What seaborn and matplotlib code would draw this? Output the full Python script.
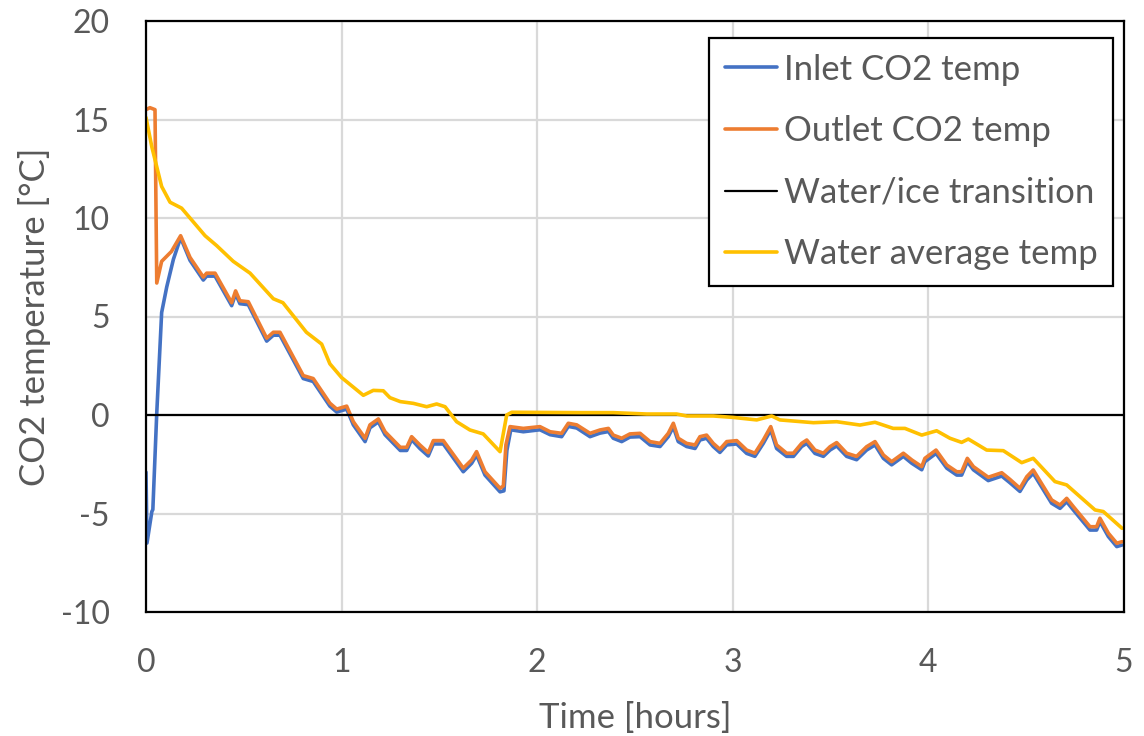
import matplotlib
matplotlib.use("Agg")
import matplotlib.pyplot as plt
import seaborn as sns
import pandas as pd

# ---------------- data ----------------
outlet_t = [0, 0.02, 0.046, 0.055, 0.08, 0.13, 0.177, 0.225, 0.293, 0.31, 0.353, 0.438, 0.458, 0.48,
            0.523, 0.617, 0.651, 0.685, 0.804, 0.855, 0.94, 0.975, 1.026, 1.06, 1.12, 1.145, 1.188,
            1.222, 1.3, 1.333, 1.358, 1.4, 1.443, 1.469, 1.52, 1.622, 1.665, 1.69, 1.733, 1.81, 1.827,
            1.84, 1.861, 1.929, 2.014, 2.066, 2.125, 2.159, 2.202, 2.27, 2.321, 2.364, 2.389, 2.432,
            2.474, 2.526, 2.577, 2.628, 2.67, 2.696, 2.721, 2.764, 2.807, 2.832, 2.866, 2.9, 2.934,
            2.969, 3.02, 3.071, 3.113, 3.156, 3.194, 3.224, 3.275, 3.31, 3.352, 3.378, 3.42, 3.463,
            3.497, 3.531, 3.582, 3.633, 3.684, 3.727, 3.77, 3.812, 3.872, 3.915, 3.966, 3.982, 4.039,
            4.094, 4.145, 4.17, 4.199, 4.23, 4.306, 4.375, 4.417, 4.468, 4.503, 4.536, 4.63, 4.673,
            4.707, 4.741, 4.826, 4.86, 4.877, 4.92, 4.963, 4.99]
outlet_v = [15.5, 15.6, 15.5, 6.7, 7.8, 8.3, 9.1, 8.0, 7.0, 7.2, 7.2, 5.7, 6.3, 5.8,
            5.75, 3.9, 4.2, 4.2, 2.0, 1.85, 0.6, 0.3, 0.45, -0.34, -1.18, -0.5, -0.2,
            -0.85, -1.64, -1.64, -1.1, -1.52, -1.91, -1.3, -1.3, -2.7, -2.28, -1.86, -2.88, -3.72, -3.6,
            -1.52, -0.59, -0.68, -0.59, -0.85, -0.93, -0.42, -0.5, -0.93, -0.76, -0.68, -1.02, -1.18,
            -0.96, -0.93, -1.35, -1.44, -0.93, -0.42, -1.18, -1.44, -1.52, -1.1, -1.02, -1.44, -1.74,
            -1.35, -1.3, -1.78, -1.94, -1.27, -0.59, -1.52, -1.94, -1.94, -1.44, -1.27, -1.78, -1.94,
            -1.61, -1.4, -1.94, -2.1, -1.61, -1.35, -2.03, -2.37, -1.94, -2.28, -2.62, -2.2, -1.78,
            -2.54, -2.88, -2.88, -2.2, -2.62, -3.16, -2.93, -3.27, -3.72, -3.13, -2.79, -4.31, -4.57,
            -4.23, -4.65, -5.67, -5.67, -5.24, -6.0, -6.51, -6.43]

inlet_t = [0, 0.005, 0.03, 0.035, 0.055, 0.08, 0.106, 0.14, 0.177, 0.225, 0.293, 0.31, 0.353, 0.438,
           0.458, 0.48, 0.523, 0.617, 0.651, 0.685, 0.804, 0.855, 0.94, 0.975, 1.026, 1.06, 1.12,
           1.145, 1.188, 1.222, 1.3, 1.333, 1.358, 1.4, 1.443, 1.469, 1.52, 1.622, 1.665, 1.69, 1.733,
           1.81, 1.83, 1.845, 1.865, 1.929, 2.014, 2.066, 2.125, 2.159, 2.202, 2.27, 2.321, 2.364,
           2.389, 2.432, 2.474, 2.526, 2.577, 2.628, 2.67, 2.696, 2.721, 2.764, 2.807, 2.832, 2.866,
           2.9, 2.934, 2.969, 3.02, 3.071, 3.113, 3.156, 3.194, 3.224, 3.275, 3.31, 3.352, 3.378,
           3.42, 3.463, 3.497, 3.531, 3.582, 3.633, 3.684, 3.727, 3.77, 3.812, 3.872, 3.915, 3.966,
           3.982, 4.039, 4.094, 4.145, 4.17, 4.199, 4.23, 4.306, 4.375, 4.417, 4.468, 4.503, 4.536,
           4.63, 4.673, 4.707, 4.741, 4.826, 4.86, 4.877, 4.92, 4.963, 4.99]
inlet_v = [-2.9, -6.5, -4.9, -4.8, 0.1, 5.2, 6.5, 7.9, 9.0, 7.85, 6.85, 7.05, 7.05, 5.55,
           6.15, 5.65, 5.6, 3.75, 4.05, 4.05, 1.85, 1.7, 0.45, 0.15, 0.3, -0.5, -1.35,
           -0.65, -0.35, -1.0, -1.8, -1.8, -1.25, -1.7, -2.08, -1.47, -1.47, -2.88, -2.45, -2.03, -3.05,
           -3.9, -3.85, -1.8, -0.75, -0.85, -0.75, -1.0, -1.1, -0.58, -0.66, -1.1, -0.92, -0.84,
           -1.18, -1.35, -1.12, -1.1, -1.52, -1.6, -1.1, -0.6, -1.35, -1.6, -1.7, -1.27, -1.18,
           -1.6, -1.9, -1.52, -1.47, -1.95, -2.1, -1.44, -0.76, -1.7, -2.1, -2.1, -1.6, -1.44,
           -1.95, -2.1, -1.78, -1.57, -2.1, -2.27, -1.78, -1.52, -2.2, -2.53, -2.1, -2.45, -2.78,
           -2.37, -1.95, -2.7, -3.05, -3.05, -2.37, -2.78, -3.33, -3.1, -3.44, -3.88, -3.3, -2.96,
           -4.48, -4.74, -4.4, -4.82, -5.84, -5.84, -5.41, -6.17, -6.68, -6.6]

water_t = [0, 0.03, 0.08, 0.123, 0.182, 0.302, 0.361, 0.446, 0.532, 0.651, 0.70, 0.82, 0.898, 0.94,
           1.0, 1.111, 1.162, 1.213, 1.247, 1.3, 1.367, 1.435, 1.486, 1.529, 1.588, 1.656, 1.724,
           1.81, 1.844, 1.87, 2.22, 2.389, 2.56, 2.713, 2.764, 2.9, 3.0, 3.122, 3.199, 3.241, 3.412,
           3.531, 3.65, 3.727, 3.82, 3.88, 3.966, 4.042, 4.11, 4.17, 4.204, 4.298, 4.383, 4.477,
           4.536, 4.647, 4.707, 4.852, 4.894, 4.99]
water_v = [15.1, 13.6, 11.6, 10.8, 10.5, 9.1, 8.6, 7.8, 7.2, 5.9, 5.7, 4.2, 3.6, 2.6,
           1.9, 1.0, 1.25, 1.23, 0.88, 0.68, 0.59, 0.42, 0.56, 0.42, -0.34, -0.76, -0.96,
           -1.86, 0.0, 0.14, 0.12, 0.12, 0.05, 0.05, -0.05, -0.05, -0.12, -0.25, -0.05, -0.25, -0.39,
           -0.34, -0.51, -0.37, -0.68, -0.68, -1.02, -0.8, -1.18, -1.39, -1.22, -1.78, -1.81, -2.42,
           -2.2, -3.38, -3.55, -4.82, -4.9, -5.75]

transition_t = [0, 5]
transition_v = [0, 0]

labels = ["Inlet CO2 temp", "Outlet CO2 temp", "Water/ice transition", "Water average temp"]
x_ticks = [0, 1, 2, 3, 4, 5]
y_ticks = [-10, -5, 0, 5, 10, 15, 20]

# ---------------- style ----------------
sns.set_theme(style="white")
plt.rcParams["font.family"] = ["Lato", "DejaVu Sans"]
TXT = "#595959"

fig = plt.figure(figsize=(11.44, 7.36), dpi=100)
ax = fig.add_axes([146 / 1144, 1 - 612 / 736, (1124 - 146) / 1144, (612 - 21) / 736])

ax.grid(True, color="#D9D9D9", lw=1.6)
ax.set_axisbelow(True)

sns.lineplot(x=inlet_t, y=inlet_v, ax=ax, color="#4472C4", lw=2.6, label=labels[0],
             estimator=None, sort=False)
sns.lineplot(x=outlet_t, y=outlet_v, ax=ax, color="#ED7D31", lw=2.6, label=labels[1],
             estimator=None, sort=False)
sns.lineplot(x=transition_t, y=transition_v, ax=ax, color="black", lw=1.6, label=labels[2],
             estimator=None, sort=False)
sns.lineplot(x=water_t, y=water_v, ax=ax, color="#FFC000", lw=2.6, label=labels[3],
             estimator=None, sort=False)

ax.set_xlim(0, 5)
ax.set_ylim(-10, 20)
ax.set_xticks(x_ticks)
ax.set_yticks(y_ticks)
ax.set_xticklabels([str(v) for v in x_ticks])
ax.set_yticklabels([str(v) for v in y_ticks])
ax.tick_params(axis="both", length=0, labelsize=23, colors=TXT)
ax.tick_params(axis="x", pad=26)
ax.tick_params(axis="y", pad=26)

for s in ax.spines.values():
    s.set_color("black")
    s.set_linewidth(1.6)

ax.set_xlabel("Time [hours]", fontsize=25, color=TXT, labelpad=17)
ax.set_ylabel("CO2 temperature [°C]", fontsize=25, color=TXT, labelpad=7)

leg = ax.legend(loc="upper right", bbox_to_anchor=(1 - 11 / 978, 1 - 17 / 591), fontsize=25,
                frameon=True, fancybox=False, framealpha=1, edgecolor="black",
                handlelength=1.5, handletextpad=0.2, labelspacing=0.85,
                borderpad=0.45, borderaxespad=0)
leg.get_frame().set_linewidth(1.6)
for t in leg.get_texts():
    t.set_color(TXT)

fig.savefig("out.png", dpi=100)
